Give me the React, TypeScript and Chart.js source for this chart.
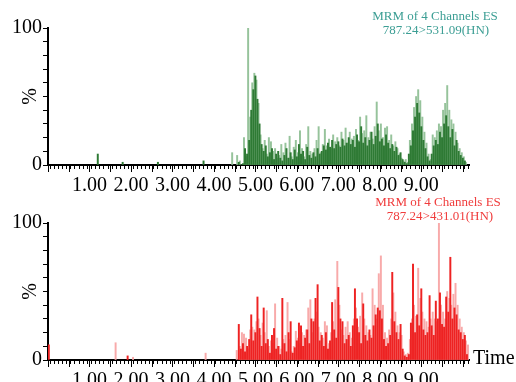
import React, { useEffect, useRef } from 'react';
import { Chart, registerables } from 'chart.js';

Chart.register(...registerables);

// ---------- data ----------
const X_MIN = 0;
const X_MAX = 10.15;
const Y_MIN = 0;
const Y_MAX = 100;

const xTickValues = [1, 2, 3, 4, 5, 6, 7, 8, 9];
const xTickLabels = ['1.00', '2.00', '3.00', '4.00', '5.00', '6.00', '7.00', '8.00', '9.00'];
const yTickValues = [0, 100];
const yTickLabels = ['0', '100'];

// main scan region: retention time of first scan and scan interval (min)
const darkStart = 4.6;
const lightStart = 4.625;
const scanStep = 0.05;

// Channel 787.24>531.09 (green)
const greenDark = [
  2, 0, 1, 12, 8, 18, 40, 55, 65, 48,
  30, 15, 10, 14, 6, 9, 12, 4, 8, 10,
  5, 3, 7, 12, 5, 9, 4, 11, 6, 15,
  8, 10, 4, 13, 7, 5, 9, 6, 12, 8,
  10, 14, 11, 16, 13, 18, 12, 15, 17, 13,
  19, 14, 16, 20, 15, 18, 13, 22, 17, 28,
  16, 20, 14, 18, 24, 15, 21, 30, 17, 19,
  14, 22, 16, 12, 15, 10, 13, 7, 9, 4,
  2, 1, 8, 14, 25, 35, 45, 38, 28, 18,
  12, 6, 3, 8, 14, 18, 15, 24, 20, 30,
  36, 28, 20, 26, 14, 18, 10, 7, 5, 3,
];
const greenLight = [
  3, 0, 20, 6, 100, 35, 60, 67, 62, 45,
  22, 12, 18, 8, 20, 17, 10, 12, 5, 7,
  15, 9, 16, 5, 21, 6, 13, 18, 9, 25,
  12, 6, 15, 28, 10, 8, 12, 18, 28, 9,
  15, 26, 14, 19, 12, 22, 17, 20, 14, 24,
  18, 27, 16, 24, 19, 21, 26, 18, 35, 23,
  25, 36, 20, 24, 19, 28, 46, 25, 30, 20,
  27, 28, 18, 22, 14, 17, 12, 8, 5, 3,
  4, 2, 18, 30, 42, 50, 55, 47, 35, 24,
  16, 8, 4, 22, 20, 25, 30, 28, 40, 45,
  58, 40, 33, 30, 24, 16, 12, 9, 6, 2,
];
const greenEarlyDarkTimes = [1.2, 1.8, 2.65, 3.75];
const greenEarlyDarkValues = [8, 2, 2, 3];
const greenEarlyLightTimes = [4.44, 4.56];
const greenEarlyLightValues = [9, 7];

// Channel 787.24>431.01 (red)
const redDark = [
  26, 8, 12, 6, 10, 15, 33, 14, 20, 46,
  23, 10, 38, 12, 15, 5, 18, 23, 8, 10,
  4, 45, 12, 6, 20, 28, 5, 9, 14, 27,
  25, 10, 16, 22, 12, 30, 28, 45, 55, 14,
  18, 10, 20, 8, 14, 42, 22, 16, 53, 30,
  28, 12, 15, 18, 10, 25, 52, 30, 20, 12,
  41, 18, 14, 22, 16, 25, 33, 38, 36, 30,
  15, 10, 12, 18, 64, 28, 20, 15, 26, 8,
  3, 2, 4, 27, 70, 20, 33, 25, 52, 22,
  18, 20, 47, 25, 18, 43, 30, 49, 26, 24,
  46, 35, 75, 30, 38, 33, 22, 20, 15, 18,
  4,
];
const redLight = [
  10, 20, 19, 16, 8, 22, 24, 22, 28, 30,
  18, 27, 20, 36, 10, 14, 12, 41, 16, 10,
  8, 15, 18, 42, 15, 6, 10, 21, 16, 12,
  20, 18, 22, 38, 44, 20, 30, 35, 24, 20,
  16, 28, 25, 12, 20, 28, 44, 72, 40, 22,
  18, 24, 28, 20, 16, 30, 38, 24, 32, 49,
  30, 25, 20, 18, 52, 40, 30, 63, 76, 40,
  20, 16, 22, 30, 49, 35, 25, 20, 18, 6,
  4, 5, 15, 30, 40, 32, 67, 45, 35, 30,
  28, 24, 30, 35, 30, 28, 100, 40, 35, 30,
  50, 45, 40, 48, 56, 40, 30, 24, 20, 14,
  11,
];
const redEarlyDarkTimes = [0.02, 1.92];
const redEarlyDarkValues = [11, 3];
const redEarlyLightTimes = [1.63, 2.05, 3.8, 4.55];
const redEarlyLightValues = [12.6, 2, 5, 7];

// ---------- helpers ----------
type Pt = { x: number; y: number };
const pairs = (times: number[], values: number[]): Pt[] => values.map((y, i) => ({ x: times[i], y }));
const scans = (start: number, values: number[]): Pt[] => values.map((y, i) => ({ x: start + i * scanStep, y }));

const SERIF = '"Liberation Serif", "Times New Roman", serif';

const decorPlugin = {
  id: 'decor',
  afterDraw(chart: any, _args: any, opts: any) {
    const ctx = chart.ctx as CanvasRenderingContext2D;
    const xs = chart.scales.x;
    const ys = chart.scales.y;
    ctx.save();
    // longer ticks every half minute
    ctx.strokeStyle = '#000';
    ctx.lineWidth = 1;
    for (let k = 0; k * 0.5 <= X_MAX; k++) {
      const px = Math.round(xs.getPixelForValue(k * 0.5)) + 0.5;
      ctx.beginPath();
      ctx.moveTo(px, ys.bottom + 1);
      ctx.lineTo(px, ys.bottom + 7);
      ctx.stroke();
    }
    // % axis label
    ctx.save();
    ctx.fillStyle = '#000';
    ctx.font = '20px ' + SERIF;
    ctx.textAlign = 'center';
    ctx.textBaseline = 'middle';
    ctx.translate(31, ys.getPixelForValue(50));
    ctx.rotate(-Math.PI / 2);
    ctx.fillText('%', 0, 0);
    ctx.restore();
    // title
    ctx.fillStyle = opts.titleColor;
    ctx.font = '13px ' + SERIF;
    ctx.textAlign = 'center';
    ctx.textBaseline = 'middle';
    opts.titleLines.forEach((t: string, i: number) => {
      ctx.fillText(t, opts.titleX[i], opts.titleY[i]);
    });
    if (opts.showTime) {
      ctx.fillStyle = '#000';
      ctx.font = '20px ' + SERIF;
      ctx.textAlign = 'left';
      ctx.textBaseline = 'alphabetic';
      ctx.fillText('Time', xs.right + 4, ys.bottom + 4);
    }
    ctx.restore();
  },
};

type PanelProps = {
  top: number;
  dark: Pt[];
  light: Pt[];
  darkColor: string;
  lightColor: string;
  titleLines: string[];
  titleColor: string;
  titleX: number[];
  titleY: number[];
  showTime: boolean;
};

function Panel(p: PanelProps) {
  const ref = useRef<HTMLCanvasElement | null>(null);
  useEffect(() => {
    if (!ref.current) return;
    const chart = new Chart(ref.current, {
      type: 'bar',
      data: {
        datasets: [
          {
            data: p.dark as any,
            backgroundColor: p.darkColor,
            barThickness: 1.3,
            grouped: false,
          } as any,
          {
            data: p.light as any,
            backgroundColor: p.lightColor,
            barThickness: 1.3,
            grouped: false,
          } as any,
        ],
      },
      options: {
        animation: false,
        responsive: false,
        events: [],
        layout: { padding: { left: 0, right: 47, top: 28, bottom: 0 } },
        plugins: {
          legend: { display: false },
          tooltip: { enabled: false },
          decor: {
            titleLines: p.titleLines,
            titleColor: p.titleColor,
            titleX: p.titleX,
            titleY: p.titleY,
            showTime: p.showTime,
          },
        } as any,
        scales: {
          x: {
            type: 'linear',
            min: X_MIN,
            max: X_MAX,
            offset: false,
            afterFit: (s: any) => {
              s.height = 35;
            },
            border: { display: true, color: '#000', width: 2 },
            grid: { display: true, drawOnChartArea: false, drawTicks: true, tickLength: 4, color: '#000', lineWidth: 1 },
            ticks: {
              stepSize: 0.1,
              autoSkip: false,
              maxRotation: 0,
              minRotation: 0,
              includeBounds: false,
              padding: 5,
              color: '#000',
              font: { family: SERIF, size: 20 },
              callback: (v: any) => {
                const n = Number(v);
                const idx = xTickValues.findIndex((t) => Math.abs(t - n) < 1e-6);
                return idx >= 0 ? xTickLabels[idx] : '';
              },
            },
          },
          y: {
            type: 'linear',
            min: Y_MIN,
            max: Y_MAX,
            afterFit: (s: any) => {
              s.width = 48;
            },
            border: { display: true, color: '#000', width: 2 },
            grid: { display: true, drawOnChartArea: false, drawTicks: true, tickLength: 5, color: '#000', lineWidth: 1 },
            ticks: {
              stepSize: 10,
              autoSkip: false,
              padding: 1,
              color: '#000',
              font: { family: SERIF, size: 20 },
              callback: (v: any) => {
                const idx = yTickValues.indexOf(Number(v));
                return idx >= 0 ? yTickLabels[idx] : '';
              },
            },
          },
        },
      } as any,
      plugins: [decorPlugin as any],
    });
    return () => chart.destroy();
  }, []);
  return (
    <canvas
      ref={ref}
      width={516}
      height={200}
      style={{ position: 'absolute', left: 0, top: p.top, width: 516, height: 200 }}
    />
  );
}

export default function App() {
  const gDark = [...pairs(greenEarlyDarkTimes, greenEarlyDarkValues), ...scans(darkStart, greenDark)];
  const gLight = [...pairs(greenEarlyLightTimes, greenEarlyLightValues), ...scans(lightStart, greenLight)];
  const rDark = [...pairs(redEarlyDarkTimes, redEarlyDarkValues), ...scans(darkStart, redDark)];
  const rLight = [...pairs(redEarlyLightTimes, redEarlyLightValues), ...scans(lightStart, redLight)];
  return (
    <div style={{ position: 'fixed', left: 0, top: 0, width: 516, height: 382, overflow: 'hidden', background: '#fff' }}>
      <Panel
        top={0}
        dark={gDark}
        light={gLight}
        darkColor="rgb(46,122,52)"
        lightColor="rgb(150,195,155)"
        titleLines={['MRM of 4 Channels ES', '787.24>531.09(HN)']}
        titleColor="rgb(60,158,148)"
        titleX={[435, 436]}
        titleY={[17, 31]}
        showTime={false}
      />
      <Panel
        top={195}
        dark={rDark}
        light={rLight}
        darkColor="rgb(238,34,34)"
        lightColor="rgb(248,170,170)"
        titleLines={['MRM of 4 Channels ES', '787.24>431.01(HN)']}
        titleColor="rgb(240,60,60)"
        titleX={[438, 440]}
        titleY={[8, 22]}
        showTime={true}
      />
    </div>
  );
}
